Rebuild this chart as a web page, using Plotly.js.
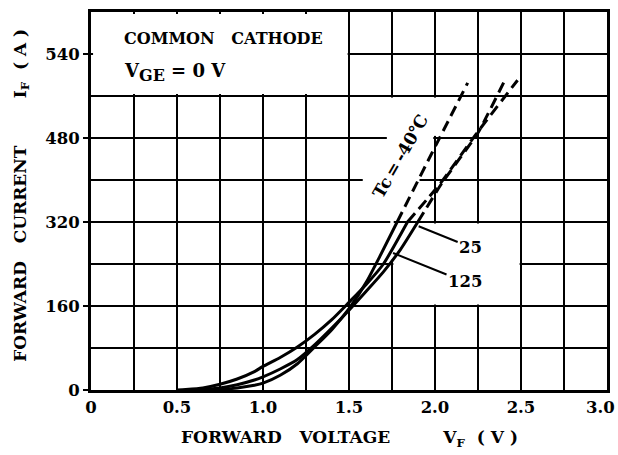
<!DOCTYPE html>
<html>
<head>
<meta charset="utf-8">
<script src="https://cdn.plot.ly/plotly-3.0.1.min.js"></script>
<style>html,body{margin:0;padding:0;background:#fff;}#chart{width:618px;height:455px;}</style>
</head>
<body>
<div id="chart"></div>
<script>
// ---- data ----
var xTickVals = [0, 0.5, 1.0, 1.5, 2.0, 2.5, 3.0];
var xTickText = ['0', '0.5', '1.0', '1.5', '2.0', '2.5', '3.0'];
var yTickVals = [0, 160, 320, 480, 640];
var yTickText = ['0', '160', '320', '480', '540'];

// Tc = -40 C
var vM40Solid = [0.65, 0.75, 0.85, 0.95, 1.0, 1.1, 1.2, 1.3, 1.4, 1.5, 1.6, 1.68, 1.78];
var iM40Solid = [0, 1, 4, 9, 13, 28, 50, 82, 115, 155, 205, 255, 320];
var vM40Dash = [1.78, 1.98, 2.19];
var iM40Dash = [320, 450, 585];
// Tc = 25 C
var v25Solid = [0.55, 0.65, 0.75, 0.85, 0.95, 1.0, 1.1, 1.2, 1.3, 1.4, 1.5, 1.6, 1.7, 1.8, 1.9];
var i25Solid = [0, 1, 4, 10, 19, 25, 40, 58, 86, 118, 152, 188, 225, 268, 320];
var v25Dash = [1.90, 2.04, 2.25, 2.40];
var i25Dash = [320, 394, 490, 586];
// Tc = 125 C
var v125Solid = [0.5, 0.55, 0.65, 0.75, 0.85, 0.95, 1.0, 1.1, 1.2, 1.3, 1.4, 1.5, 1.6, 1.7, 1.84];
var i125Solid = [0, 1, 4, 11, 21, 35, 45, 62, 82, 106, 134, 167, 201, 240, 320];
var v125Dash = [1.84, 2.03, 2.24, 2.48];
var i125Dash = [320, 393, 488, 590];

var FONT = 'DejaVu Serif, Liberation Serif, serif';
var NB = '\u00a0';
function sp(n){ return NB.repeat(n); }

function solid(x, y){ return {x:x, y:y, type:'scatter', mode:'lines', line:{color:'#000', width:3, shape:'spline', smoothing:0.6}, hoverinfo:'skip'}; }
function dashed(x, y){ return {x:x, y:y, type:'scatter', mode:'lines', line:{color:'#000', width:3, dash:'11px,6px', shape:'spline', smoothing:0.4}, hoverinfo:'skip'}; }

var traces = [
  solid(vM40Solid, iM40Solid), dashed(vM40Dash, iM40Dash),
  solid(v25Solid, i25Solid), dashed(v25Dash, i25Dash),
  solid(v125Solid, i125Solid), dashed(v125Dash, i125Dash)
];

function mask(x0, x1, y0, y1){
  return {type:'rect', xref:'x', yref:'y', x0:x0, x1:x1, y0:y0, y1:y1, fillcolor:'#fff', line:{width:0}, layer:'between'};
}

var shapes = [
  mask(0.012, 1.492, 564, 716),      // condition box
  mask(1.758, 2.492, 163, 317),      // label area for 25 / 125
  mask(1.74, 1.76, 248, 557),        // gap in 1.75 V line
  mask(1.58, 1.91, 394, 406),        // gap in 400 A line
  mask(1.72, 1.99, 474, 486),        // gap in 480 A line
  mask(1.99, 2.012, 484, 557)        // gap in 2.0 V line
];

var tf = {family: FONT, size: 16.5, color: '#000', weight: 700};
var titleFont = {family: FONT, size: 17, color: '#000', weight: 700};
var boxFont = {family: FONT, size: 16, color: '#000', weight: 700};

// last x tick label is drawn as an annotation so it is not clipped at the page edge
var xTickTextShown = xTickText.slice(0, -1).concat(['']);

var annotations = [
  {xref:'paper', yref:'paper', x:0.060, y:0.931, xanchor:'left', yanchor:'middle', showarrow:false,
   text:'COMMON' + sp(3) + 'CATHODE', font:boxFont},
  {xref:'paper', yref:'paper', x:0.060, y:0.84, xanchor:'left', yanchor:'middle', showarrow:false,
   text:'V<sub><span style="font-size:16px">GE</span></sub>' + sp(1) + '=' + sp(1) + '0' + sp(1) + 'V',
   font:{family:FONT, size:18, color:'#000', weight:700}},
  {xref:'paper', yref:'paper', x:0.5, y:-0.127, xanchor:'center', yanchor:'middle', showarrow:false,
   text:'FORWARD' + sp(3) + 'VOLTAGE' + sp(9) + 'V<sub>F</sub>' + sp(2) + '(' + sp(1) + 'V' + sp(1) + ')',
   font:titleFont},
  {xref:'paper', yref:'paper', x:-0.134, y:0.516, xanchor:'center', yanchor:'middle', showarrow:false, textangle:-90,
   text:'FORWARD' + sp(3) + 'CURRENT' + sp(8) + 'I<sub>F</sub>' + sp(2) + '(' + sp(1) + 'A' + sp(1) + ')',
   font:titleFont},
  {xref:'x', yref:'y', x:1.80, y:445, showarrow:false, textangle:-60,
   text:'Tc' + '\u2009=\u2009' + '-40\u2103', font:{family:FONT, size:17, color:'#000', weight:700}},
  {xref:'x', yref:'y', x:1.905, y:312, ax:52, ay:21, showarrow:true, arrowhead:0, arrowwidth:2, arrowcolor:'#000',
   text:'25', font:{family:FONT, size:16.5, color:'#000', weight:700}},
  {xref:'x', yref:'y', x:1.756, y:261, ax:72, ay:29, showarrow:true, arrowhead:0, arrowwidth:2, arrowcolor:'#000',
   text:'125', font:{family:FONT, size:16.5, color:'#000', weight:700}},
  {xref:'paper', yref:'paper', x:(617 - 91) / 516, y:-0.045, xanchor:'right', yanchor:'middle', showarrow:false,
   text:xTickText[xTickText.length - 1], font:tf}
];

var layout = {
  width: 618, height: 455,
  margin: {l:91, r:11, t:12, b:65, pad:0},
  paper_bgcolor:'#fff', plot_bgcolor:'#fff',
  showlegend:false,
  xaxis: {
    range:[0, 3], tickmode:'array', tickvals:xTickVals, ticktext:xTickTextShown,
    ticks:'', showgrid:true, gridcolor:'#000', gridwidth:2,
    minor:{dtick:0.25, tick0:0, showgrid:true, gridcolor:'#000', gridwidth:2},
    showline:true, linecolor:'#000', linewidth:3, mirror:true, zeroline:false,
    tickfont:tf, fixedrange:true
  },
  yaxis: {
    range:[0, 720], tickmode:'array', tickvals:yTickVals, ticktext:yTickText,
    ticks:'outside', ticklen:5, tickwidth:2, tickcolor:'#000',
    showgrid:true, gridcolor:'#000', gridwidth:2,
    minor:{dtick:80, tick0:0, showgrid:true, gridcolor:'#000', gridwidth:2},
    showline:true, linecolor:'#000', linewidth:3, mirror:true, zeroline:false,
    tickfont:tf, fixedrange:true
  },
  shapes: shapes,
  annotations: annotations
};

Plotly.newPlot('chart', traces, layout, {staticPlot:true, displayModeBar:false});
</script>
</body>
</html>
